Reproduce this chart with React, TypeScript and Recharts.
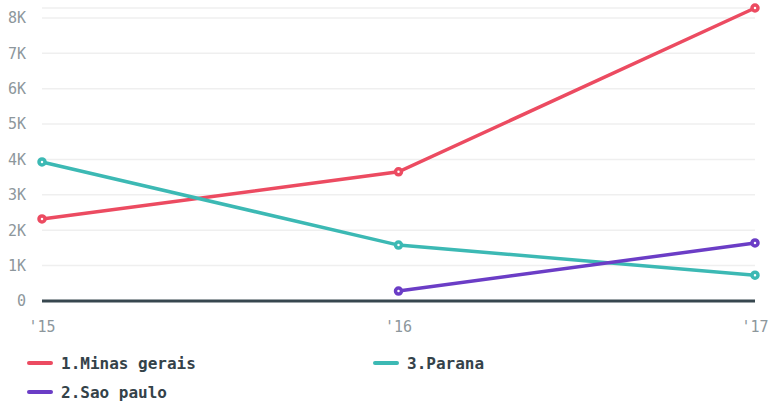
import { LineChart, Line, XAxis, YAxis, CartesianGrid } from "recharts";

const years = ["'15", "'16", "'17"];
const minasGerais = [2320, 3650, 8280];
const saoPaulo = [null, 280, 1640];
const parana = [3930, 1580, 730];
const yTicks = [0, 1000, 2000, 3000, 4000, 5000, 6000, 7000, 8000];

const series = [
  { dataKey: "minas", name: "1.Minas gerais", color: "#ec4b61" },
  { dataKey: "parana", name: "3.Parana", color: "#3cb9b4" },
  { dataKey: "sao", name: "2.Sao paulo", color: "#6b3dc6" },
];

const data = years.map((year, i) => ({
  year,
  minas: minasGerais[i],
  sao: saoPaulo[i],
  parana: parana[i],
}));

const tickFont = { fontFamily: "'DejaVu Sans Mono', monospace", fontSize: 15, fill: "#8d979c" };

const formatK = (v: number) => (v === 0 ? "0" : `${v / 1000}K`);

function ChartLegend() {
  return (
    <div
      style={{
        position: "absolute",
        left: 27,
        top: 353,
        width: 700,
        display: "grid",
        gridTemplateColumns: "346px 346px",
        rowGap: 9,
        fontFamily: "'DejaVu Sans Mono', monospace",
        fontWeight: "bold",
        fontSize: 16,
        color: "#344249",
      }}
    >
      {series.map((s) => (
        <div key={s.dataKey} style={{ display: "flex", alignItems: "center", height: 20 }}>
          <span
            style={{
              display: "inline-block",
              width: 26,
              height: 4,
              borderRadius: 2,
              background: s.color,
              marginRight: 8,
            }}
          />
          {s.name}
        </div>
      ))}
    </div>
  );
}

export default function App() {
  return (
    <div style={{ position: "fixed", left: 0, top: 0, width: 770, height: 405, background: "#fff" }}>
      <LineChart width={770} height={345} data={data} margin={{ top: 8, right: 15, left: 0, bottom: 0 }}>
        <CartesianGrid vertical={false} stroke="#efefef" strokeWidth={1.5} />
        <XAxis
          dataKey="year"
          tick={tickFont}
          tickLine={false}
          axisLine={{ stroke: "#37474f", strokeWidth: 3 }}
          tickMargin={14}
          height={44}
          interval={0}
        />
        <YAxis
          domain={[0, "dataMax"]}
          ticks={yTicks}
          tickFormatter={formatK}
          tick={tickFont}
          tickLine={false}
          axisLine={false}
          tickMargin={10}
          width={42}
        />
        {series.map((s) => (
          <Line
            key={s.dataKey}
            type="linear"
            dataKey={s.dataKey}
            name={s.name}
            stroke={s.color}
            strokeWidth={3.5}
            dot={{ r: 3, fill: "#fff", stroke: s.color, strokeWidth: 3.5 }}
            isAnimationActive={false}
          />
        ))}
      </LineChart>
      <ChartLegend />
    </div>
  );
}
